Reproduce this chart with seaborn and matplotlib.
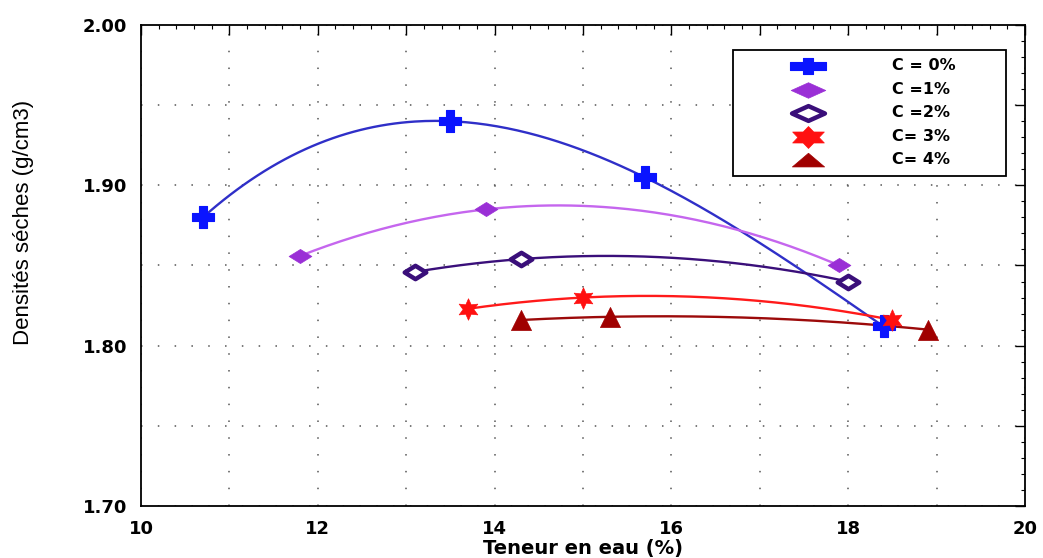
import numpy as np
import pandas as pd
import matplotlib
matplotlib.use("Agg")
import matplotlib.pyplot as plt
from matplotlib.path import Path
from matplotlib.font_manager import FontProperties
from matplotlib.ticker import MultipleLocator, FuncFormatter
import seaborn as sns

# Water content (%) and dry density (g/cm3) for each cement content
labels = ["C = 0%", "C =1%", "C =2%", "C= 3%", "C= 4%"]
w_c0 = [10.7, 13.5, 15.7, 18.4]
d_c0 = [1.880, 1.940, 1.905, 1.812]
w_c1 = [11.8, 13.9, 17.9]
d_c1 = [1.856, 1.885, 1.850]
w_c2 = [13.1, 14.3, 18.0]
d_c2 = [1.846, 1.854, 1.840]
w_c3 = [13.7, 15.0, 18.5]
d_c3 = [1.823, 1.830, 1.816]
w_c4 = [14.3, 15.3, 18.9]
d_c4 = [1.816, 1.818, 1.810]

sns.set_theme(style="white")
plt.rcParams["font.family"] = ["Liberation Sans", "DejaVu Sans"]
plt.rcParams["text.color"] = "black"
plt.rcParams["axes.labelcolor"] = "black"

tick_font = FontProperties(family="DejaVu Sans", weight="bold", size=13)


def closed(verts):
    verts = list(verts) + [verts[0]]
    codes = [Path.MOVETO] + [Path.LINETO] * (len(verts) - 2) + [Path.CLOSEPOLY]
    return Path(verts, codes)


def plus_path(bar_h, stem_w, stem_h):
    return closed([(-1, -bar_h), (-stem_w, -bar_h), (-stem_w, -stem_h), (stem_w, -stem_h),
                   (stem_w, -bar_h), (1, -bar_h), (1, bar_h), (stem_w, bar_h),
                   (stem_w, stem_h), (-stem_w, stem_h), (-stem_w, bar_h), (-1, bar_h)])


def star6_path(sy):
    ang = np.pi / 2 + np.arange(12) * np.pi / 6
    rad = np.where(np.arange(12) % 2 == 0, 1.0, 0.58)
    return closed([(r * np.cos(a), sy * r * np.sin(a)) for r, a in zip(rad, ang)])


diamond = closed([(-1, 0), (0, 0.62), (1, 0), (0, -0.62)])

# flattened symbols used in the legend box
leg_plus = plus_path(0.2, 0.28, 0.45)
leg_diamond = closed([(-1, 0), (0, 0.45), (1, 0), (0, -0.45)])
leg_star = star6_path(0.6)
leg_tri = closed([(-1, -0.4), (1, -0.4), (0, 0.45)])

series = [
    dict(w=w_c0, d=d_c0, line="#2f2fc8", mk="P", lmk=leg_plus, ls=640,
         mfc="#0a14ff", mec="#0a14ff", s=250, lw=0.8),
    dict(w=w_c1, d=d_c1, line="#c566ee", mk=diamond, lmk=leg_diamond, ls=620,
         mfc="#9a2fd6", mec="#9a2fd6", s=270, lw=0.5),
    dict(w=w_c2, d=d_c2, line="#3a0f7a", mk=diamond, lmk=leg_diamond, ls=560,
         mfc="white", mec="#3a0f7a", s=240, lw=3.2),
    dict(w=w_c3, d=d_c3, line="#ff1a1a", mk=(6, 1, 0), lmk=leg_star, ls=520,
         mfc="#ff1010", mec="#ff1010", s=240, lw=0.5),
    dict(w=w_c4, d=d_c4, line="#9c0a0a", mk="^", lmk=leg_tri, ls=540,
         mfc="#a00000", mec="#a00000", s=210, lw=0.5),
]

fig = plt.figure(figsize=(10.43, 5.58), dpi=100)
ax = fig.add_axes([0.1352, 0.0932, 0.8475, 0.862])

handles = []
for lab, sr in zip(labels, series):
    x = np.array(sr["w"])
    y = np.array(sr["d"])
    # smooth trend curve through the measured points
    coef = np.polyfit(x, y, len(x) - 1)
    xs = np.linspace(x.min(), x.max(), 200)
    curve = pd.DataFrame({"w": xs, "d": np.polyval(coef, xs)})
    sns.lineplot(data=curve, x="w", y="d", ax=ax, color=sr["line"], lw=1.7, zorder=2)
    pts = pd.DataFrame({"w": x, "d": y})
    sns.scatterplot(data=pts, x="w", y="d", ax=ax, marker=sr["mk"], s=sr["s"],
                    color=sr["mfc"], edgecolor=sr["mec"], linewidth=sr["lw"], zorder=3)
    h = ax.scatter([], [], marker=sr["lmk"], s=sr["ls"], facecolor=sr["mfc"],
                   edgecolor=sr["mec"], linewidth=sr["lw"], label=lab)
    handles.append(h)

ax.set_xlim(10, 20)
ax.set_ylim(1.70, 2.00)

ax.xaxis.set_major_locator(MultipleLocator(1))
ax.xaxis.set_minor_locator(MultipleLocator(0.2))
ax.yaxis.set_major_locator(MultipleLocator(0.05))
ax.yaxis.set_minor_locator(MultipleLocator(0.01))
ax.xaxis.set_major_formatter(FuncFormatter(lambda v, p: f"{v:.0f}" if round(v) % 2 == 0 else ""))
ax.yaxis.set_major_formatter(FuncFormatter(lambda v, p: f"{v:.2f}" if round(v * 100) % 10 == 0 else ""))

ax.tick_params(which="both", direction="in", top=True, right=True, colors="black",
               labelcolor="black")
ax.tick_params(which="major", length=7, width=1.0)
ax.tick_params(axis="x", which="major", pad=10)
ax.tick_params(axis="y", which="major", pad=10)
ax.tick_params(which="minor", length=3, width=0.8)
for t in ax.get_xticklabels() + ax.get_yticklabels():
    t.set_fontproperties(tick_font)

ax.grid(True, which="major", color="#555555", linestyle=(0, (1, 10)), linewidth=1.1)
for sp in ax.spines.values():
    sp.set_color("black")
    sp.set_linewidth(1.3)

ax.set_xlabel("Teneur en eau (%)", fontproperties=FontProperties(family="DejaVu Sans",
              weight="bold", size=14), color="black", va="center")
ax.xaxis.set_label_coords(0.5, -0.088)
ax.set_ylabel("Densités séches (g/cm3)", fontsize=16, color="black",
              family=["Liberation Sans Narrow", "Liberation Sans", "DejaVu Sans"])
ax.yaxis.set_label_coords(-0.121, 0.59)

leg = ax.legend(handles=handles, loc="upper right",
                bbox_to_anchor=(0.670, 0.55, 0.308, 0.398), mode="expand",
                borderaxespad=0.0,
                frameon=True, fancybox=False, framealpha=1, edgecolor="black",
                prop=FontProperties(family="DejaVu Sans", weight="bold", size=11.5),
                handletextpad=1.1, labelspacing=0.53, borderpad=0.53,
                handlelength=8.3, markerscale=1.0)
leg.get_frame().set_linewidth(1.3)
for txt in leg.get_texts():
    txt.set_color("black")

fig.savefig("out.png", dpi=100)
